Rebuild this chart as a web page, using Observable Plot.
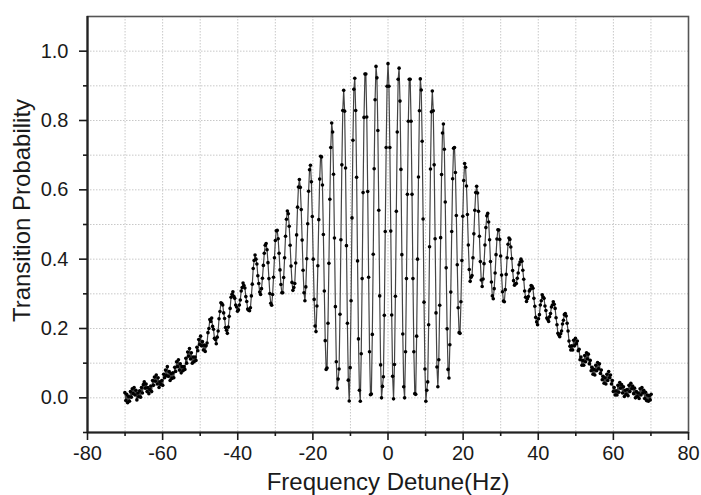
<!DOCTYPE html>
<html>
<head>
<meta charset="utf-8">
<script src="https://cdn.jsdelivr.net/npm/d3@7"></script>
<script src="https://cdn.jsdelivr.net/npm/@observablehq/plot@0.6"></script>
<style>
  html, body { margin: 0; padding: 0; background: #fff; }
</style>
</head>
<body>
<div id="chart"></div>
<script>
// ---- Data ----
// Samples on a regular detuning grid: detune = detuneStartHz + i * detuneStepHz
const detuneStartHz = -70.05;
const detuneStepHz = 0.2458;

// Transition probability per sample, one fringe per line (left tail -> centre -> right tail)
const probability = [
  0.015, -0.008, 0.01, -0.014,
  0.004, -0.01, 0.018, 0.002, 0.026, 0.012, 0.03, 0.008, 0.022, -0.006, 0.014, 0.003,
  0.02, 0.002, 0.03, 0.014, 0.038, 0.046, 0.028, 0.04, 0.018, 0.03, 0.012, 0.024,
  0.034, 0.018, 0.05, 0.036, 0.06, 0.048, 0.066, 0.04, 0.058, 0.03, 0.046, 0.038,
  0.05, 0.036, 0.068, 0.058, 0.08, 0.064, 0.09, 0.062, 0.076, 0.05, 0.07, 0.056,
  0.072, 0.058, 0.088, 0.076, 0.104, 0.09, 0.11, 0.08, 0.098, 0.072, 0.09, 0.078,
  0.09, 0.082, 0.114, 0.1, 0.132, 0.12, 0.142, 0.112, 0.13, 0.1, 0.118, 0.104,
  0.118, 0.108, 0.146, 0.136, 0.168, 0.154, 0.178, 0.15, 0.162, 0.138, 0.152, 0.134,
  0.15, 0.158, 0.188, 0.2, 0.226, 0.22, 0.23, 0.206, 0.198, 0.172, 0.168, 0.156,
  0.175, 0.193, 0.228, 0.249, 0.274, 0.272, 0.268, 0.245, 0.229, 0.203, 0.195, 0.186,
  0.204, 0.235, 0.258, 0.29, 0.299, 0.306, 0.293, 0.287, 0.268, 0.262, 0.25, 0.254,
  0.268, 0.282, 0.308, 0.318, 0.331, 0.324, 0.317, 0.292, 0.278, 0.256, 0.253, 0.251,
  0.26, 0.294, 0.328, 0.373, 0.396, 0.412, 0.4, 0.386, 0.352, 0.33, 0.305, 0.298,
  0.315, 0.345, 0.382, 0.417, 0.44, 0.445, 0.427, 0.39, 0.344, 0.301, 0.273, 0.267,
  0.298, 0.348, 0.404, 0.454, 0.482, 0.483, 0.459, 0.417, 0.369, 0.327, 0.303, 0.303,
  0.347, 0.404, 0.466, 0.515, 0.539, 0.531, 0.495, 0.44, 0.38, 0.333, 0.31, 0.318,
  0.33, 0.389, 0.47, 0.55, 0.608, 0.63, 0.607, 0.543, 0.455, 0.368, 0.303, 0.28,
  0.32, 0.401, 0.502, 0.596, 0.658, 0.671, 0.623, 0.523, 0.40, 0.284, 0.207, 0.191,
  0.265, 0.381, 0.514, 0.631, 0.697, 0.695, 0.614, 0.471, 0.308, 0.165, 0.082, 0.086,
  0.215, 0.388, 0.573, 0.722, 0.793, 0.767, 0.645, 0.461, 0.263, 0.104, 0.028, 0.054,
  0.083, 0.241, 0.456, 0.672, 0.829, 0.887, 0.827, 0.663, 0.439, 0.215, 0.051, -0.009,
  0.087, 0.28, 0.519, 0.743, 0.89, 0.922, 0.829, 0.636, 0.395, 0.17, 0.022, -0.01,
  0.127, 0.344, 0.592, 0.809, 0.934, 0.934, 0.81, 0.595, 0.348, 0.133, 0.009, 0.011,
  0.183, 0.414, 0.661, 0.86, 0.956, 0.923, 0.771, 0.541, 0.294, 0.095, 0.0, 0.033,
  0.061, 0.238, 0.48, 0.722, 0.899, 0.964, 0.899, 0.722, 0.481, 0.239, 0.062, -0.003,
  0.096, 0.293, 0.538, 0.767, 0.919, 0.951, 0.856, 0.659, 0.413, 0.184, 0.032, 0.0,
  0.133, 0.344, 0.587, 0.798, 0.919, 0.919, 0.798, 0.587, 0.344, 0.133, 0.012, 0.01,
  0.178, 0.40, 0.637, 0.828, 0.92, 0.888, 0.74, 0.516, 0.276, 0.083, -0.01, 0.022,
  0.046, 0.211, 0.436, 0.66, 0.825, 0.885, 0.828, 0.672, 0.459, 0.245, 0.089, 0.032,
  0.11, 0.267, 0.462, 0.644, 0.764, 0.79, 0.717, 0.565, 0.375, 0.199, 0.082, 0.057,
  0.153, 0.305, 0.48, 0.632, 0.72, 0.722, 0.65, 0.526, 0.384, 0.26, 0.188, 0.186,
  0.277, 0.396, 0.524, 0.627, 0.676, 0.665, 0.611, 0.529, 0.441, 0.37, 0.336, 0.348,
  0.353, 0.404, 0.473, 0.541, 0.592, 0.61, 0.591, 0.538, 0.466, 0.393, 0.34, 0.321,
  0.343, 0.387, 0.441, 0.491, 0.525, 0.532, 0.507, 0.456, 0.393, 0.334, 0.294, 0.286,
  0.315, 0.36, 0.413, 0.458, 0.485, 0.484, 0.457, 0.409, 0.354, 0.306, 0.279, 0.277,
  0.312, 0.356, 0.404, 0.443, 0.461, 0.457, 0.435, 0.402, 0.367, 0.338, 0.325, 0.329,
  0.33, 0.345, 0.36, 0.384, 0.392, 0.40, 0.394, 0.368, 0.342, 0.308, 0.29, 0.278,
  0.286, 0.292, 0.308, 0.313, 0.324, 0.322, 0.316, 0.287, 0.264, 0.232, 0.219, 0.211,
  0.228, 0.24, 0.268, 0.28, 0.297, 0.291, 0.287, 0.265, 0.252, 0.23, 0.226, 0.22,
  0.234, 0.243, 0.262, 0.268, 0.277, 0.27, 0.258, 0.231, 0.211, 0.186, 0.181, 0.176,
  0.185, 0.193, 0.213, 0.224, 0.24, 0.243, 0.236, 0.215, 0.193, 0.164, 0.149, 0.138,
  0.15, 0.138, 0.166, 0.15, 0.172, 0.156, 0.164, 0.136, 0.14, 0.11, 0.118, 0.094,
  0.108, 0.094, 0.122, 0.104, 0.13, 0.112, 0.126, 0.098, 0.108, 0.078, 0.088, 0.068,
  0.082, 0.066, 0.094, 0.078, 0.102, 0.084, 0.098, 0.07, 0.08, 0.052, 0.062, 0.042,
  0.058, 0.04, 0.068, 0.05, 0.076, 0.058, 0.066, 0.04, 0.05, 0.018, 0.03, 0.008,
  0.02, 0.008, 0.036, 0.016, 0.044, 0.028, 0.038, 0.014, 0.032, 0.004, 0.022, 0.01,
  0.024, 0.006, 0.036, 0.018, 0.042, 0.026, 0.034, 0.012, 0.028, 0.0, 0.018, 0.004,
  0.014, -0.002, 0.026, 0.008, 0.03, 0.014, 0.022, -0.002, 0.016, -0.008, 0.008, -0.01,
  0.006, -0.006, 0.01
];

// Axis ticks and labels
const xTicks = [-80, -60, -40, -20, 0, 20, 40, 60, 80];
const xMinorTicks = [-70, -50, -30, -10, 10, 30, 50, 70];
const xGridTicks = [-70, -60, -50, -40, -30, -20, -10, 0, 10, 20, 30, 40, 50, 60, 70];
const yTicks = [0.0, 0.2, 0.4, 0.6, 0.8, 1.0];
const yMinorTicks = [-0.1, 0.1, 0.3, 0.5, 0.7, 0.9];
const yGridTicks = [0.0, 0.1, 0.2, 0.3, 0.4, 0.5, 0.6, 0.7, 0.8, 0.9, 1.0];
const xLabel = "Frequency Detune(Hz)";
const yLabel = "Transition Probability";

const data = probability.map((p, i) => ({ detune: detuneStartHz + i * detuneStepHz, p }));

const chart = Plot.plot({
  width: 701,
  height: 495,
  marginLeft: 87,
  marginRight: 13,
  marginTop: 16,
  marginBottom: 63,
  style: { fontFamily: "'Liberation Sans', Arial, sans-serif", background: "#fff", color: "#1a1a1a" },
  x: { domain: [-80, 80] },
  y: { domain: [-0.1, 1.1] },
  marks: [
    Plot.gridX(xGridTicks, { stroke: "#c8c8c8", strokeOpacity: 1, strokeDasharray: "1.5,1.5", strokeWidth: 1 }),
    Plot.gridY(yGridTicks, { stroke: "#c8c8c8", strokeOpacity: 1, strokeDasharray: "1.5,1.5", strokeWidth: 1 }),
    Plot.frame({ stroke: "#555", strokeWidth: 1.6 }),
    Plot.line(data, { x: "detune", y: "p", stroke: "#444", strokeWidth: 1.2 }),
    Plot.dot(data, { x: "detune", y: "p", r: 1.8, fill: "#000", stroke: "none" }),
    Plot.ruleX([-80], { stroke: "#222", strokeWidth: 2.2 }),
    Plot.ruleY([-0.1], { stroke: "#222", strokeWidth: 2.2 }),
    Plot.axisX(xTicks, { tickSize: 8, tickPadding: 5, fontSize: 20, strokeWidth: 1.6, tickFormat: d => String(d), label: null }),
    Plot.axisX(xMinorTicks, { tickSize: 4, strokeWidth: 1.6, tickFormat: () => "", label: null }),
    Plot.axisY(yTicks, { tickSize: 8, tickPadding: 11, fontSize: 20, strokeWidth: 1.6, tickFormat: d => d.toFixed(1), label: null }),
    Plot.axisY(yMinorTicks, { tickSize: 4, strokeWidth: 1.6, tickFormat: () => "", label: null }),
    Plot.text([xLabel], { frameAnchor: "bottom", lineAnchor: "middle", textAnchor: "middle", dy: 50, fontSize: 24, fill: "#1a1a1a" }),
    Plot.text([yLabel], { frameAnchor: "left", textAnchor: "middle", lineAnchor: "middle", dx: -65, dy: -14, rotate: -90, fontSize: 24, fill: "#1a1a1a" })
  ]
});

document.getElementById("chart").appendChild(chart);
</script>
</body>
</html>
